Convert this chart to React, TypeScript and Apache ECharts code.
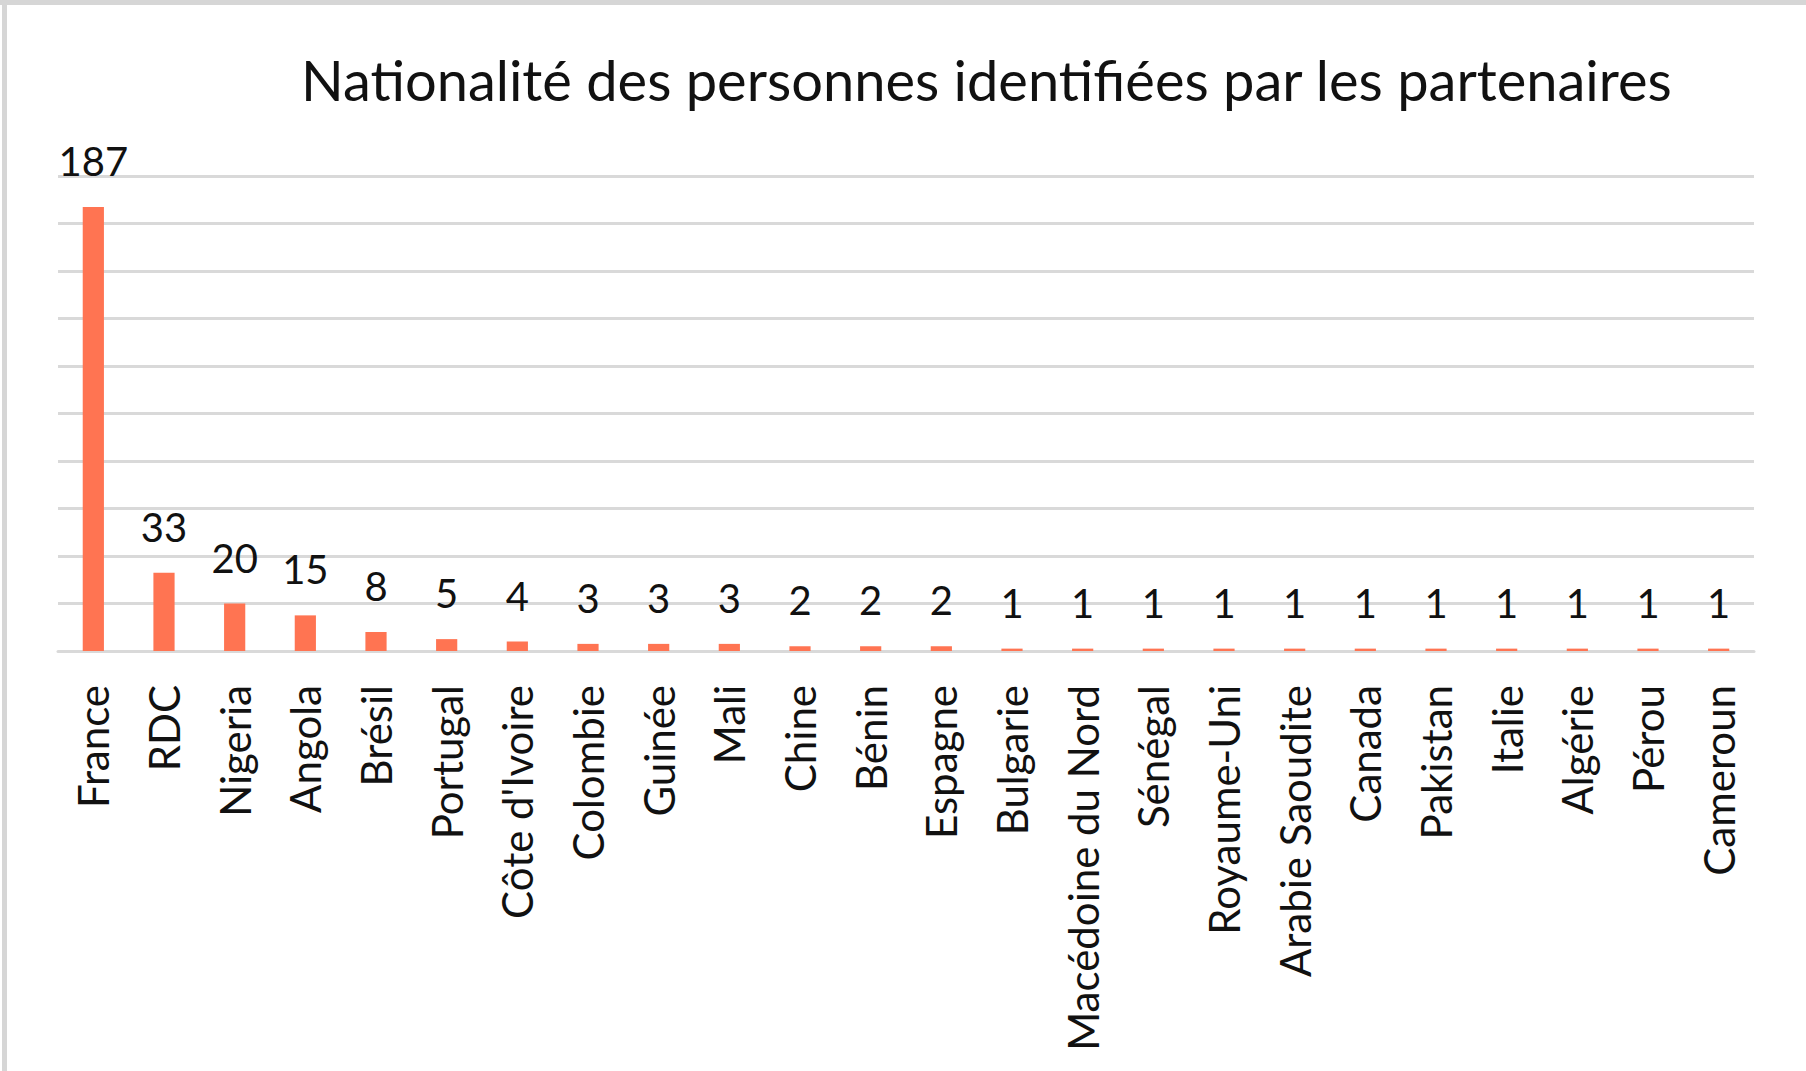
import React, { useEffect, useRef } from "react";
import * as echarts from "echarts";

const titleText = "Nationalité des personnes identifiées par les partenaires";
const categories = [
  "France", "RDC", "Nigeria", "Angola", "Brésil", "Portugal", "Côte d'Ivoire",
  "Colombie", "Guinée", "Mali", "Chine", "Bénin", "Espagne", "Bulgarie",
  "Macédoine du Nord", "Sénégal", "Royaume-Uni", "Arabie Saoudite", "Canada",
  "Pakistan", "Italie", "Algérie", "Pérou", "Cameroun",
];
const values = [187, 33, 20, 15, 8, 5, 4, 3, 3, 3, 2, 2, 2, 1, 1, 1, 1, 1, 1, 1, 1, 1, 1, 1];
const yMin = 0;
const yMax = 200;
const yInterval = 20;

const FONT = "Lato";

export default function App() {
  const ref = useRef<HTMLDivElement>(null);
  useEffect(() => {
    document.body.style.margin = "0";
    if (!ref.current) return;
    const chart = echarts.init(ref.current, null, { renderer: "svg" });
    chart.setOption({
      animation: false,
      backgroundColor: "#ffffff",
      title: {
        text: titleText,
        left: 296,
        top: 46,
        textStyle: { fontFamily: FONT, fontSize: 56, fontWeight: "normal", color: "#111111" },
      },
      graphic: [
        { type: "rect", shape: { x: 0, y: 0, width: 1806, height: 5 }, style: { fill: "#d6d6d6" } },
        { type: "rect", shape: { x: 2, y: 0, width: 5, height: 1071 }, style: { fill: "#d6d6d6" } },
      ],
      grid: { left: 58, right: 52, top: 176, bottom: 420, containLabel: false },
      xAxis: {
        type: "category",
        data: categories,
        axisLine: { show: true, lineStyle: { color: "#d9d9d9", width: 3 } },
        axisTick: { show: false },
        axisLabel: {
          rotate: 90,
          margin: 34,
          interval: 0,
          fontFamily: FONT,
          fontSize: 42,
          color: "#111111",
        },
      },
      yAxis: {
        type: "value",
        min: yMin,
        max: yMax,
        interval: yInterval,
        axisLine: { show: false },
        axisTick: { show: false },
        axisLabel: { show: false },
        splitLine: { show: true, lineStyle: { color: "#d9d9d9", width: 3 } },
      },
      series: [
        {
          type: "bar",
          data: values,
          barWidth: "30%",
          itemStyle: { color: "#ff7452" },
          label: {
            show: true,
            position: "top",
            distance: 26,
            fontFamily: FONT,
            fontSize: 40,
            lineHeight: 40,
            color: "#111111",
          },
        },
      ],
    });
    return () => chart.dispose();
  }, []);
  return <div ref={ref} style={{ width: 1806, height: 1071 }} />;
}
